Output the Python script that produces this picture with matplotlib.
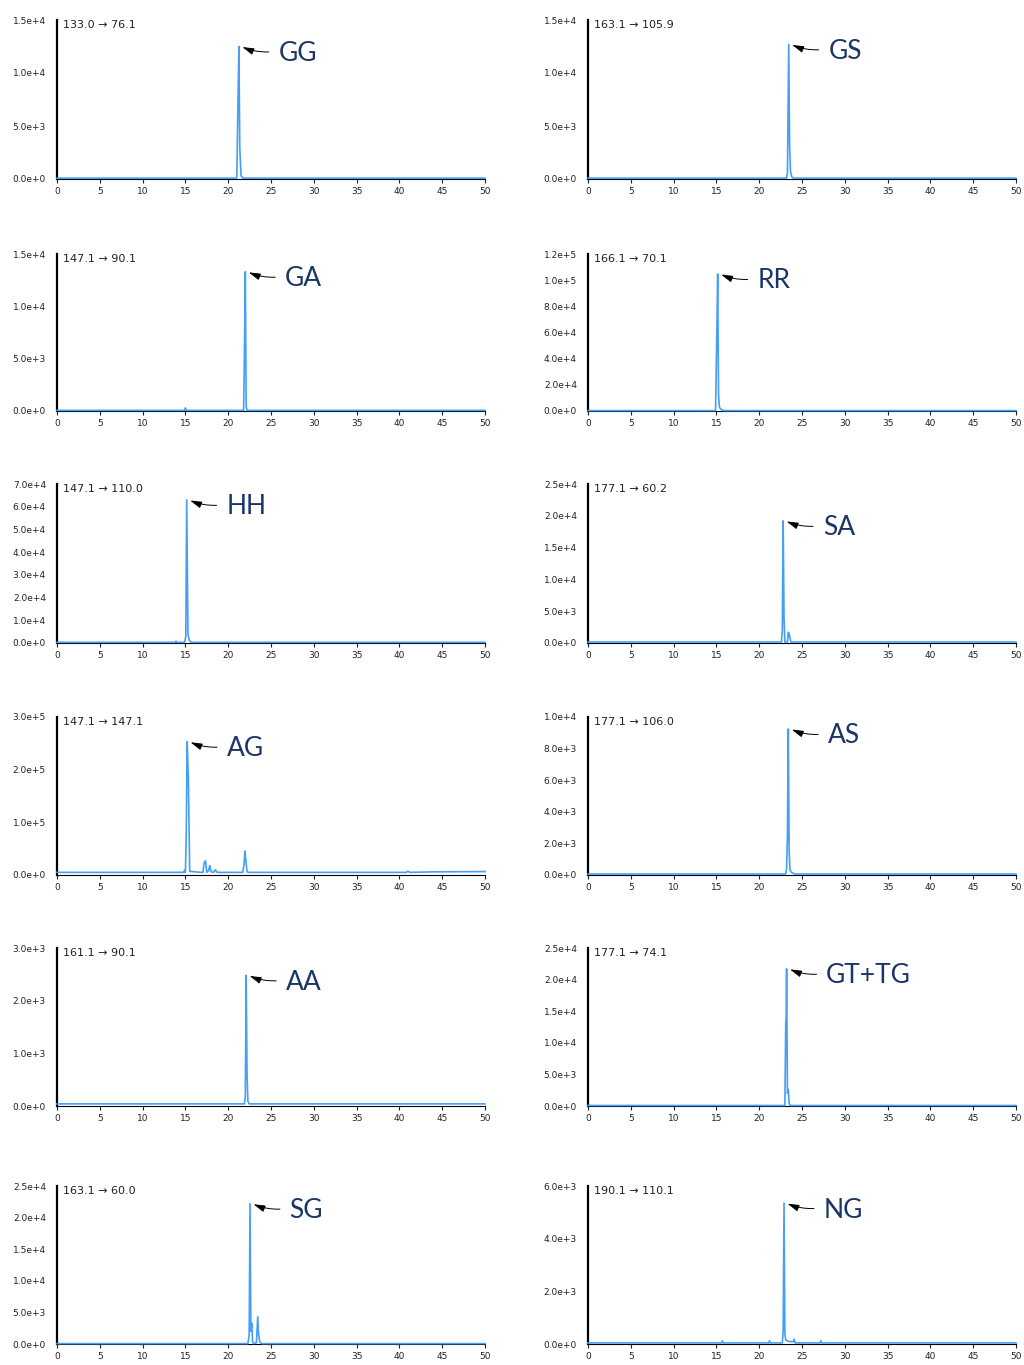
import numpy as np
import matplotlib
matplotlib.use("Agg")
import matplotlib.pyplot as plt

# MRM transitions and dipeptide labels, panel order: left column then right column
transitions = ["133.0 \u2192 76.1", "147.1 \u2192 90.1", "147.1 \u2192 110.0",
               "147.1 \u2192 147.1", "161.1 \u2192 90.1", "163.1 \u2192 60.0",
               "163.1 \u2192 105.9", "166.1 \u2192 70.1", "177.1 \u2192 60.2",
               "177.1 \u2192 106.0", "177.1 \u2192 74.1", "190.1 \u2192 110.1"]
labels = ["GG", "GA", "HH", "AG", "AA", "SG",
          "GS", "RR", "SA", "AS", "GT+TG", "NG"]

# y-axis maximum and tick step for each panel
y_max = [1.5e4, 1.5e4, 7.0e4, 3.0e5, 3.0e3, 2.5e4,
         1.5e4, 1.2e5, 2.5e4, 1.0e4, 2.5e4, 6.0e3]
y_step = [5e3, 5e3, 1e4, 1e5, 1e3, 5e3,
          5e3, 2e4, 5e3, 2e3, 5e3, 2e3]

# chromatogram traces (retention time in min, intensity)
gg_t = [0, 21.0, 21.15, 21.25, 21.35, 21.5, 21.7, 50]
gg_y = [80, 80, 7600, 12500, 3000, 300, 80, 80]

ga_t = [0, 14.9, 15.0, 15.1, 21.8, 21.9, 22.0, 22.1, 22.2, 50]
ga_y = [60, 60, 300, 60, 60, 5800, 13300, 400, 60, 60]

hh_t = [0, 13.8, 13.9, 14.0, 14.9, 15.05, 15.15, 15.3, 15.45, 15.7, 50]
hh_y = [300, 300, 800, 300, 300, 3000, 63000, 4000, 1200, 300, 300]

ag_t = [0, 14.8, 14.9, 15.0, 15.1, 15.2, 15.35, 15.5, 16.8, 17.05, 17.2, 17.35,
        17.5, 17.7, 17.85, 18.0, 18.3, 18.5, 18.7, 19.5, 21.7, 21.85, 21.95,
        22.05, 22.2, 22.4, 40.8, 41.0, 41.2, 44.0, 50]
ag_y = [5000, 5000, 9000, 5000, 80000, 253000, 180000, 7000, 5000, 5000, 24000,
        27000, 5000, 8000, 18000, 6000, 5000, 10000, 5000, 5000, 5000, 20000,
        45500, 30000, 6000, 5000, 5000, 7500, 5000, 6000, 6500]

aa_t = [0, 21.9, 22.0, 22.1, 22.2, 22.3, 22.45, 50]
aa_y = [40, 40, 200, 2480, 600, 90, 40, 40]

sg_t = [0, 22.3, 22.45, 22.55, 22.65, 22.75, 22.85, 23.0, 23.3, 23.45, 23.55,
        23.7, 23.9, 50]
sg_y = [60, 60, 1500, 22200, 2000, 3300, 300, 60, 200, 4300, 1500, 300, 60, 60]

gs_t = [0, 23.2, 23.3, 23.45, 23.55, 23.65, 23.8, 24.0, 50]
gs_y = [80, 80, 600, 12700, 3200, 800, 200, 80, 80]

rr_t = [0, 14.9, 15.05, 15.15, 15.25, 15.35, 15.5, 15.8, 50]
rr_y = [300, 300, 60000, 104700, 12000, 3000, 1500, 300, 300]

sa_t = [0, 22.6, 22.7, 22.8, 22.9, 23.0, 23.3, 23.4, 23.5, 23.7, 50]
sa_y = [150, 150, 2000, 19200, 4000, 150, 150, 1700, 1400, 150, 150]

as_t = [0, 23.1, 23.2, 23.3, 23.4, 23.5, 23.6, 23.8, 24.2, 50]
as_y = [60, 60, 400, 2500, 9240, 1500, 300, 150, 60, 60]

gt_t = [0, 23.0, 23.1, 23.15, 23.2, 23.3, 23.4, 23.5, 23.6, 50]
gt_y = [80, 80, 13000, 14000, 21700, 2000, 2600, 400, 80, 80]

ng_t = [0, 15.6, 15.7, 15.8, 21.1, 21.2, 21.3, 22.7, 22.8, 22.9, 23.0, 23.1,
        23.5, 24.0, 24.1, 24.2, 27.1, 27.2, 27.3, 50]
ng_y = [40, 40, 120, 40, 40, 120, 40, 40, 500, 5350, 400, 150, 90, 90, 180, 40,
        40, 120, 40, 40]

traces = [(gg_t, gg_y), (ga_t, ga_y), (hh_t, hh_y), (ag_t, ag_y), (aa_t, aa_y),
          (sg_t, sg_y), (gs_t, gs_y), (rr_t, rr_y), (sa_t, sa_y), (as_t, as_y),
          (gt_t, gt_y), (ng_t, ng_y)]

LINE_COLOR = "#449ff5"
LABEL_COLOR = "#1b3566"
W, H = 1024, 1365

# axes boxes in pixels
col_x = [57, 588]
row_tb = [(20, 179), (254, 411), (484, 643), (717, 875), (948, 1106), (1186, 1344)]
ax_w = 428


def sci_fmt(v, pos=None):
    if v <= 0:
        return "0.0e+0"
    e = int(np.floor(np.log10(v) + 1e-9))
    return f"{v / 10**e:.1f}e+{e}"


fig = plt.figure(figsize=(W / 100, H / 100), dpi=100)

for i in range(12):
    col, row = divmod(i, 6)
    top, bot = row_tb[row]
    rect = [col_x[col] / W, 1 - bot / H, ax_w / W, (bot - top) / H]
    ax = fig.add_axes(rect)
    t, y = traces[i]
    ax.plot(t, y, color=LINE_COLOR, lw=1.2, zorder=3, clip_on=False)

    ax.set_xlim(0, 50)
    ax.set_ylim(0, y_max[i])
    ax.set_xticks(np.arange(0, 51, 5))
    ax.set_yticks(np.arange(0, y_max[i] + y_step[i] / 2, y_step[i]))
    ax.yaxis.set_major_formatter(plt.FuncFormatter(sci_fmt))
    ax.tick_params(axis="x", direction="out", length=3, width=0.8,
                   labelsize=6.5, pad=3, colors="#222222")
    ax.tick_params(axis="y", length=0, labelsize=6.5, pad=8, colors="#222222")
    for s in ("top", "right"):
        ax.spines[s].set_visible(False)
    ax.spines["left"].set_linewidth(1.6)
    ax.spines["bottom"].set_linewidth(0.8)

    ax.text(6 / ax_w, 1.0, transitions[i], transform=ax.transAxes,
            ha="left", va="top", fontsize=8, color="#222222")

    k = int(np.argmax(y))
    ax.annotate(labels[i], xy=(t[k] + 0.25, y[k]), xytext=(27, -5),
                textcoords="offset points", ha="left", va="center",
                fontsize=19, family="Lato", color=LABEL_COLOR,
                arrowprops=dict(arrowstyle="-|>,head_length=0.7,head_width=0.2",
                                mutation_scale=10, color="black", lw=0.7,
                                relpos=(0, 0.6), shrinkA=5, shrinkB=1,
                                connectionstyle="arc3,rad=-0.15"))

fig.savefig("out.png", dpi=100)
